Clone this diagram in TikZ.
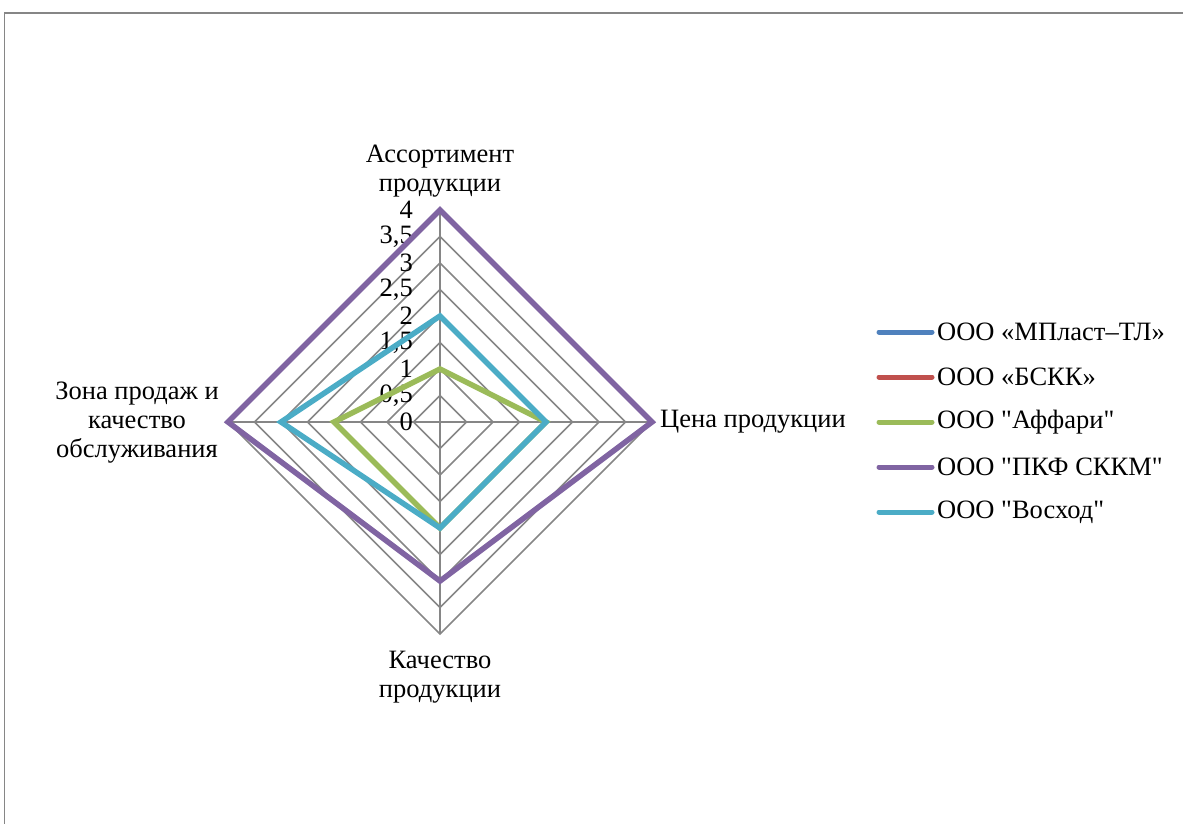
\documentclass[tikz,border=0pt]{standalone}
\usepackage{fontspec}
\setmainfont[Ligatures=TeXOff]{Liberation Serif}
\usetikzlibrary{calc}
\definecolor{gridgray}{HTML}{868686}
\definecolor{sblue}{HTML}{4F81BD}
\definecolor{sred}{HTML}{C0504D}
\definecolor{sgreen}{HTML}{9BBB59}
\definecolor{spurple}{HTML}{8064A2}
\definecolor{scyan}{HTML}{4BACC6}
\tikzset{
  gridline/.style={draw=gridgray, line width=1.5pt},
  series/.style={line width=5.5pt, line join=miter},
  legline/.style={line width=5pt, line cap=round},
  lbl/.style={font=\fontsize{26.5}{29}\selectfont, inner sep=0pt, align=center},
  tick/.style={font=\fontsize{26.5}{29}\selectfont, inner sep=0pt, anchor=east},
  legtxt/.style={font=\fontsize{26.5}{29}\selectfont, inner sep=0pt, anchor=west}
}
\begin{document}
\begin{tikzpicture}[x=1pt,y=-1pt]
\useasboundingbox (0,0) rectangle (1183,823);
% chart frame
\draw[gridline] (4.5,830) -- (4.5,13) -- (1190,13);
\coordinate (C) at (440,422);
\def\u{53}
% grid rings
\foreach \r in {0.5,1,...,4}{
  \draw[gridline] ($(C)+(0,-\r*\u)$) -- ($(C)+(\r*\u,0)$) -- ($(C)+(0,\r*\u)$) -- ($(C)+(-\r*\u,0)$) -- cycle;
}
% spokes
\coordinate (T) at ($(C)+(0,-4*\u)$);
\coordinate (R) at ($(C)+(4*\u,0)$);
\coordinate (B) at ($(C)+(0,4*\u)$);
\coordinate (L) at ($(C)+(-4*\u,0)$);
\foreach \p in {T,R,B,L}{ \draw[gridline] (C) -- (\p); }
% tick labels
\foreach \v/\t in {0/0,0.5/{0,5},1/1,1.5/{1,5},2/2,2.5/{2,5},3/3,3.5/{3,5},4/4}{
  \node[tick] at ($(C)+(-27,-\v*\u)$) {\t};
}
% series: green (Аффари) 1,2,2,2
\draw[series, sgreen] ($(C)+(0,-1*\u)$) -- ($(C)+(2*\u,0)$) -- ($(C)+(0,2*\u)$) -- ($(C)+(-2*\u,0)$) -- cycle;
% purple (ПКФ СККМ) 4,4,3,4
\draw[series, spurple] ($(C)+(0,-4*\u)$) -- ($(C)+(4*\u,0)$) -- ($(C)+(0,3*\u)$) -- ($(C)+(-4*\u,0)$) -- cycle;
% cyan (Восход) 2,2,2,3
\draw[series, scyan] ($(C)+(0,-2*\u)$) -- ($(C)+(2*\u,0)$) -- ($(C)+(0,2*\u)$) -- ($(C)+(-3*\u,0)$) -- cycle;
% category labels
\node[lbl] (catA) at (440,171) {Ассортимент\\продукции};
\node[lbl, anchor=west] (catP) at (660,422) {Цена продукции};
\node[lbl] (catQ) at (440,677) {Качество\\продукции};
\node[lbl] (catZ) at (137,423) {Зона продаж и\\качество\\обслуживания};
% legend
\foreach \c/\y/\t/\n in {sblue/332/{ООО «МПласт–ТЛ»}/l1, sred/377/{ООО «БСКК»}/l2, sgreen/422/{ООО "Аффари"}/l3, spurple/467/{ООО "ПКФ СККМ"}/l4, scyan/512/{ООО "Восход"}/l5}{
  \coordinate (\n a) at (879,\y);
  \coordinate (\n b) at (932,\y);
  \draw[legline, \c] (\n a) -- (\n b);
  \node[legtxt] (\n) at (937,\y) {\t};
}
\end{tikzpicture}
\end{document}
